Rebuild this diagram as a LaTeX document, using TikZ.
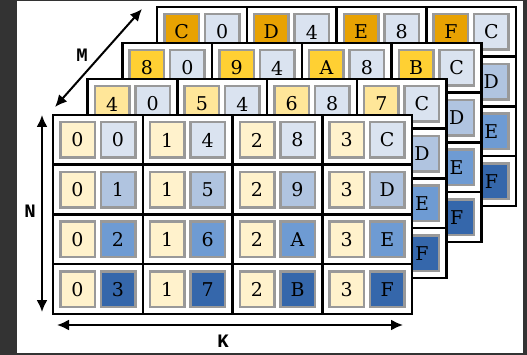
\documentclass[tikz,border=0pt]{standalone}
\usepackage{fontspec}
\setmainfont{DejaVu Serif}
\newfontfamily\labfont{Liberation Mono}
\usetikzlibrary{arrows.meta}
\definecolor{lay0}{HTML}{FFF2CC}
\definecolor{lay1}{HTML}{FFE699}
\definecolor{lay2}{HTML}{FFD033}
\definecolor{lay3}{HTML}{E8A202}
\definecolor{row0}{HTML}{DAE3F0}
\definecolor{row1}{HTML}{B0C4E0}
\definecolor{row2}{HTML}{6E9BD3}
\definecolor{row3}{HTML}{3567AB}
\definecolor{sqborder}{HTML}{999999}
\definecolor{frame}{HTML}{333333}
\newcommand\hexdig[1]{\ifcase#1 0\or 1\or 2\or 3\or 4\or 5\or 6\or 7\or 8\or 9\or A\or B\or C\or D\or E\or F\fi}
\begin{document}
\begin{tikzpicture}[x=1pt,y=-1pt,
  cellbox/.style={draw=black,line width=2.5pt,fill=white,minimum width=89.75pt,minimum height=49.75pt,inner sep=0pt,outer sep=0pt},
  sq/.style={draw=sqborder,line width=2.5pt,minimum width=34.5pt,minimum height=35.5pt,inner sep=0pt,font=\fontsize{19}{19}\selectfont},
  arr/.style={line width=2pt,{Latex[length=12pt,width=11pt]}-{Latex[length=12pt,width=11pt]}},
  lab/.style={font=\labfont\bfseries\fontsize{19}{19}\selectfont,inner sep=0pt}]
\useasboundingbox (0,0) rectangle (527,355);
\fill[frame] (0,0) rectangle (527,355);
\fill[white] (17,1) rectangle (523,353);
\foreach \L in {3,2,1,0} {
  \foreach \c in {0,...,3} {
    \foreach \r in {0,...,3} {
      \pgfmathsetmacro\xx{53+34.7*\L+89.75*\c}
      \pgfmathsetmacro\yy{115-36*\L+49.75*\r}
      \pgfmathtruncatemacro\lv{4*\L+\c}
      \pgfmathtruncatemacro\rv{4*\c+\r}
      \node[cellbox,anchor=north west] (c\L\c\r) at (\xx,\yy) {};
      \node[sq,fill=lay\L] (a\L\c\r) at (\xx+24.5,\yy+25) {\hexdig{\lv}};
      \node[sq,fill=row\r] (b\L\c\r) at (\xx+65,\yy+25) {\hexdig{\rv}};
    }
  }
}
\coordinate (m1) at (55,107);
\coordinate (m2) at (142,9);
\draw[arr] (m1) -- (m2);
\node[lab] (mlab) at (82,55) {M};
\coordinate (n1) at (42,115);
\coordinate (n2) at (42,312);
\draw[arr] (n1) -- (n2);
\node[lab] (nlab) at (30,211) {N};
\coordinate (k1) at (57,325);
\coordinate (k2) at (403,325);
\draw[arr] (k1) -- (k2);
\node[lab] (klab) at (223,341) {K};
\end{tikzpicture}
\end{document}
